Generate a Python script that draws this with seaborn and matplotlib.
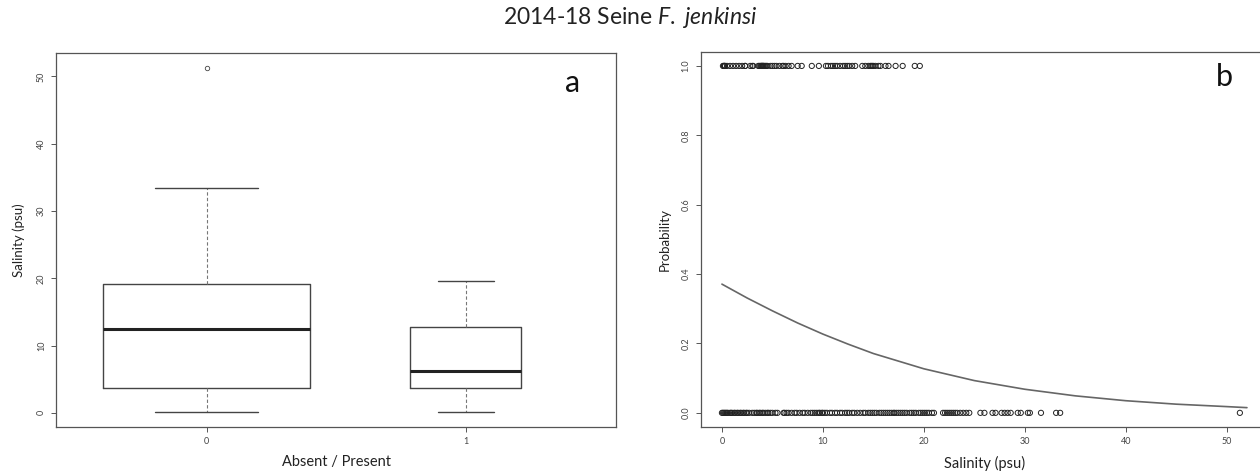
import numpy as np
import pandas as pd
import seaborn as sns
import matplotlib.pyplot as plt

# panel a: box summaries (absent = 0, present = 1)
groups = ['0', '1']
box_q1 = [3.75, 3.75]
box_median = [12.4, 6.2]
box_q3 = [19.1, 12.8]
whisker_low = [0.1, 0.1]
whisker_high = [33.5, 19.6]
outliers = [[51.3], []]
box_widths = [0.8, 0.43]

# panel b: salinity of hauls where the species was absent (0) / present (1)
salinity_absent = [
    0.0, 0.1, 0.2, 0.3, 0.4, 0.5, 0.6, 0.8, 0.9, 1.0, 1.2, 1.3, 1.5, 1.6, 1.8,
    1.9, 2.1, 2.2, 2.4, 2.5, 2.7, 3.0, 3.2, 3.4, 3.5, 3.7, 3.8, 4.0, 4.1, 4.3,
    4.5, 4.6, 4.8, 5.0, 5.3, 5.5,
    6.1, 6.2, 6.4, 6.6, 6.9, 7.2, 7.4, 7.7, 8.0, 8.2, 8.5, 8.8, 9.0, 9.2, 9.4,
    9.6, 9.7, 9.9, 10.0, 10.2, 10.4, 10.7, 10.9, 11.2, 11.4, 11.7, 11.9, 12.2,
    12.4, 12.6, 12.9, 13.1,
    13.4, 13.7, 14.0, 14.2, 14.5, 14.7, 14.9, 15.1, 15.3, 15.6, 15.8, 16.0,
    16.2, 16.4, 16.6, 16.8, 17.0, 17.1, 17.3, 17.5, 17.7, 17.9, 18.1, 18.3,
    18.6, 18.8, 19.0, 19.2, 19.5, 19.7, 19.9, 20.1, 20.3, 20.5,
    20.8, 21.0, 21.9, 22.1, 22.3, 22.5, 22.7, 22.9, 23.1, 23.3, 23.6, 23.9,
    24.2, 24.5,
    25.6, 26.0, 26.8, 27.1, 27.7, 28.0, 28.3, 28.6, 29.3, 29.6, 30.3, 30.5,
    31.6, 33.1, 33.5, 51.3,
]
salinity_present = [
    0.1, 0.2, 0.2, 0.3, 0.3, 0.5, 0.8, 1.1, 1.4, 1.7, 2.0, 2.3, 2.3, 2.8, 3.0,
    3.1, 3.6, 3.7,
    3.8, 3.9, 3.9, 4.0, 4.0, 4.1, 4.1, 4.2, 4.3, 4.4, 4.5, 4.8, 5.0, 5.2, 5.4,
    5.7, 6.0, 6.1,
    6.3, 6.6, 6.9, 7.5, 7.9, 8.9, 9.6, 10.3, 10.5, 10.8, 11.0, 11.2, 11.4,
    11.7, 12.0, 12.2, 12.4, 12.6,
    12.9, 13.2, 13.9, 14.2, 14.5, 14.7, 14.8, 14.9, 15.0, 15.2, 15.5, 15.7,
    16.2, 16.5, 17.2, 17.9, 19.1, 19.6,
]

# fitted probability curve
curve_salinity = [0, 2.5, 5, 7.5, 10, 12.5, 15, 20, 25, 30, 35, 40, 45, 50, 52]
curve_prob = [0.371, 0.331, 0.294, 0.259, 0.227, 0.198, 0.171, 0.127, 0.093,
              0.068, 0.049, 0.035, 0.025, 0.018, 0.015]

sns.set_theme(style='white')
plt.rcParams['font.family'] = ['Lato', 'DejaVu Sans']
plt.rcParams['mathtext.fontset'] = 'custom'
plt.rcParams['mathtext.rm'] = 'Lato'
plt.rcParams['mathtext.it'] = 'Lato:italic'

edge = '#555555'
tick_kw = dict(labelsize=6.5, labelcolor='#444444', length=3.5, width=0.7,
               color=edge, pad=4)

fig = plt.figure(figsize=(12.6, 4.71), dpi=100)
ax_a = fig.add_axes([0.0448, 0.094, 0.444, 0.793])
ax_b = fig.add_axes([0.5563, 0.094, 0.45, 0.7955])

# ---- panel a: boxplot
stats = []
for i, g in enumerate(groups):
    stats.append({'label': g, 'q1': box_q1[i], 'med': box_median[i],
                  'q3': box_q3[i], 'whislo': whisker_low[i],
                  'whishi': whisker_high[i], 'fliers': outliers[i]})
ax_a.bxp(stats, positions=[1, 2], widths=box_widths,
         capwidths=[w / 2 for w in box_widths],
         boxprops=dict(color='#444444', linewidth=1.0),
         medianprops=dict(color='#222222', linewidth=2.2),
         whiskerprops=dict(color='#777777', linewidth=0.8, linestyle=(0, (3, 2))),
         capprops=dict(color='#444444', linewidth=1.0),
         flierprops=dict(marker='o', markersize=3.2, markerfacecolor='none',
                         markeredgecolor='#444444', markeredgewidth=0.6))
ax_a.set_xlim(0.42, 2.58)
ax_a.set_ylim(-2.06, 53.46)
ax_a.set_yticks([0, 10, 20, 30, 40, 50])
ax_a.set_xlabel('Absent / Present', fontsize=10.5, color='#222222')
ax_a.set_ylabel('Salinity (psu)', fontsize=9.5, color='#222222')
ax_a.xaxis.set_label_coords(0.5, -0.075)
ax_a.yaxis.set_label_coords(-0.057, 0.5)
ax_a.text(0.923, 0.92, 'a', transform=ax_a.transAxes, fontsize=22,
          ha='center', va='center', color='#111111')

# ---- panel b: presence/absence against salinity with the fitted curve
pts = pd.DataFrame({
    'salinity': salinity_absent + salinity_present,
    'occurrence': [0] * len(salinity_absent) + [1] * len(salinity_present),
})
sns.scatterplot(data=pts, x='salinity', y='occurrence', ax=ax_b, marker='o',
                s=14, facecolors='none', edgecolor='#222222', linewidth=0.7,
                legend=False)
curve = pd.DataFrame({'salinity': curve_salinity, 'prob': curve_prob})
sns.lineplot(data=curve, x='salinity', y='prob', ax=ax_b, color='#666666',
             linewidth=1.2)
ax_b.set_xlim(-2.08, 54.08)
ax_b.set_ylim(-0.04, 1.04)
ax_b.set_xticks([0, 10, 20, 30, 40, 50])
ax_b.set_yticks([0.0, 0.2, 0.4, 0.6, 0.8, 1.0])
ax_b.set_yticklabels(['0.0', '0.2', '0.4', '0.6', '0.8', '1.0'])
ax_b.set_xlabel('Salinity (psu)', fontsize=10.5, color='#222222')
ax_b.set_ylabel('Probability', fontsize=9.5, color='#222222')
ax_b.xaxis.set_label_coords(0.5, -0.077)
ax_b.yaxis.set_label_coords(-0.053, 0.5)
ax_b.text(0.923, 0.934, 'b', transform=ax_b.transAxes, fontsize=22,
          ha='center', va='center', color='#111111')

for ax in (ax_a, ax_b):
    for sp in ax.spines.values():
        sp.set_color(edge)
        sp.set_linewidth(0.9)
    ax.tick_params(axis='both', which='both', bottom=True, left=True,
                   direction='out', **tick_kw)
    for lab in ax.get_yticklabels():
        lab.set_rotation(90)
        lab.set_va('center')

fig.text(0.5, 0.963, r'2014-18 Seine $\mathit{F.\ jenkinsi}$', ha='center',
         va='center', fontsize=16.5, color='#222222')

fig.savefig('out.png', dpi=100)
